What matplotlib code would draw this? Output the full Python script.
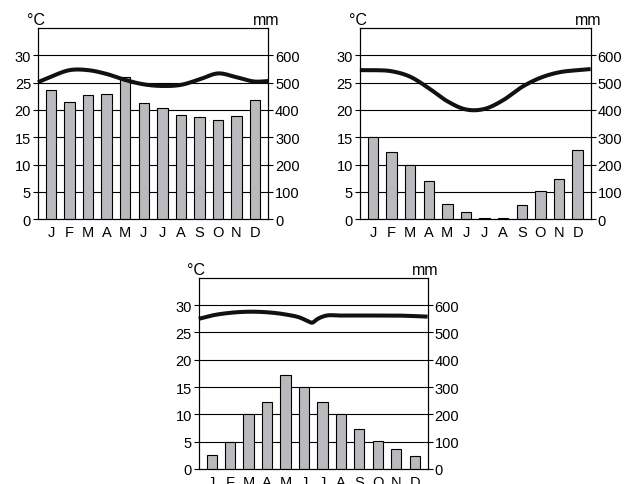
import numpy as np
import matplotlib.pyplot as plt

plt.rcParams['font.family'] = ['Liberation Sans', 'DejaVu Sans']

months = ['J', 'F', 'M', 'A', 'M', 'J', 'J', 'A', 'S', 'O', 'N', 'D']

# precipitation, mm
rain1 = [472, 430, 455, 460, 520, 425, 408, 383, 373, 363, 378, 437]
rain2 = [300, 246, 200, 140, 54, 28, 6, 6, 52, 102, 148, 252]
rain3 = [50, 100, 200, 246, 346, 300, 246, 200, 148, 102, 72, 48]

# temperature, degC, read at month positions (edges of the box included)
tx1 = [-0.7, 0, 1, 2, 3, 4, 5, 6, 7, 8, 9, 10, 11, 11.7]
temp1 = [25.1, 26.1, 27.3, 27.3, 26.6, 25.5, 24.7, 24.4, 24.6, 25.6, 26.7, 26.0, 25.2, 25.3]
tx2 = [-0.7, 0, 1, 2, 3, 4, 5, 6, 7, 8, 9, 10, 11, 11.7]
temp2 = [27.3, 27.3, 27.1, 26.1, 24.0, 21.6, 20.1, 20.2, 21.8, 24.2, 25.9, 26.9, 27.3, 27.5]
tx3 = [-0.7, 0, 1, 2, 3, 4, 4.8, 5.2, 5.45, 5.7, 6.1, 7, 8, 9, 10, 11, 11.7]
temp3 = [27.5, 28.1, 28.6, 28.8, 28.7, 28.3, 27.7, 27.1, 26.8, 27.4, 28.0, 28.1, 28.1, 28.1, 28.1, 28.0, 27.9]


def smooth(x, y, n=400):
    # cubic hermite through the read points
    x = np.asarray(x, float)
    y = np.asarray(y, float)
    m = np.gradient(y, x)
    xs = np.linspace(x[0], x[-1], n)
    i = np.clip(np.searchsorted(x, xs) - 1, 0, len(x) - 2)
    h = x[i + 1] - x[i]
    t = (xs - x[i]) / h
    ys = ((2 * t**3 - 3 * t**2 + 1) * y[i] + (t**3 - 2 * t**2 + t) * h * m[i]
          + (-2 * t**3 + 3 * t**2) * y[i + 1] + (t**3 - t**2) * h * m[i + 1])
    return xs, ys


def climogram(rect, rain, tx, temp):
    ax = fig.add_axes(rect)
    ax2 = ax.twinx()
    x = np.arange(12)

    ax.set_xlim(-0.7, 11.7)
    ax.set_ylim(0, 35)
    ax2.set_ylim(0, 700)
    for v in range(5, 35, 5):
        ax.axhline(v, color='black', lw=0.8, zorder=0)

    ax2.bar(x, rain, width=0.56, color='#b9babe', edgecolor='black', linewidth=0.8)
    xs, ys = smooth(tx, temp)
    ax2.plot(xs, ys, color='#111111', lw=2.9, solid_capstyle='butt',
             transform=ax.transData, clip_on=False)
    ax2.set_xlim(-0.7, 11.7)

    ax.set_yticks(range(0, 35, 5))
    ax2.set_yticks(range(0, 700, 100))
    ax.set_xticks(x)
    ax.set_xticklabels(months)
    for a in (ax, ax2):
        a.tick_params(axis='y', direction='out', length=3.5, width=0.8,
                      pad=1.5, labelsize=10.5)
        for s in a.spines.values():
            s.set_linewidth(0.8)
    ax.tick_params(axis='x', length=0, pad=4, labelsize=10.5)
    ax.text(-0.01, 1.005, '°C', transform=ax.transAxes, ha='center', va='bottom', fontsize=11.5)
    ax.text(0.99, 1.005, 'mm', transform=ax.transAxes, ha='center', va='bottom', fontsize=11.5)


fig = plt.figure(figsize=(6.27, 4.85), dpi=100)
climogram([0.0606, 0.546, 0.367, 0.394], rain1, tx1, temp1)
climogram([0.574, 0.546, 0.368, 0.394], rain2, tx2, temp2)
climogram([0.317, 0.031, 0.365, 0.394], rain3, tx3, temp3)
fig.savefig('out.png', dpi=100)
